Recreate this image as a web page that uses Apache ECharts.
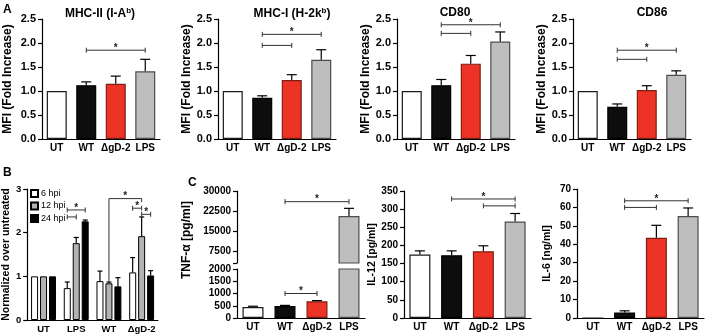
<!DOCTYPE html>
<html>
<head>
<meta charset="utf-8">
<script src="https://cdn.jsdelivr.net/npm/echarts@6/dist/echarts.min.js"></script>
<style>
html, body { margin: 0; padding: 0; background: #fff; }
#chart { width: 708px; height: 336px; }
</style>
</head>
<body>
<div id="chart"></div>
<script>
// categories
const cats = ['UT', 'WT', 'ΔgD-2', 'LPS'];
const catsB = ['UT', 'LPS', 'WT', 'ΔgD-2'];
const hpiNames = ['6 hpi', '12 hpi', '24 hpi'];

// A: MFI (fold increase), mean and SEM per category
const mhc2Mean = [1.0, 1.12, 1.15, 1.41];
const mhc2Sem = [0, 0.07, 0.16, 0.25];
const mhc1Mean = [1.0, 0.86, 1.23, 1.65];
const mhc1Sem = [0, 0.04, 0.11, 0.21];
const cd80Mean = [1.0, 1.12, 1.57, 2.03];
const cd80Sem = [0, 0.12, 0.17, 0.2];
const cd86Mean = [1.0, 0.67, 1.02, 1.34];
const cd86Sem = [0, 0.06, 0.09, 0.08];

// significance brackets: [fromCat, toCat, y, star]
const sigMhc2 = [[1, 3, 1.85, 1]];
const sigMhc1 = [[1, 2, 1.95, 0], [1, 3, 2.18, 1]];
const sigCd80 = [[1, 2, 2.2, 0], [1, 3, 2.38, 1]];
const sigCd86 = [[1, 2, 1.66, 0], [1, 3, 1.85, 1]];

// B: normalized over untreated, per hpi
const b6Mean = [1.0, 0.73, 0.89, 1.09];
const b6Sem = [0, 0.14, 0.23, 0.34];
const b12Mean = [1.0, 1.76, 0.84, 1.92];
const b12Sem = [0, 0.13, 0.03, 0.44];
const b24Mean = [1.0, 2.26, 0.77, 1.02];
const b24Sem = [0, 0.03, 0.2, 0.11];
// [cat1, slot1, cat2, slot2, y, star]  slot 0/1/2 = 6/12/24 hpi
const sigB = [[1, 0, 1, 2, 2.52, 1], [1, 0, 1, 1, 2.36, 0], [3, 0, 3, 1, 2.56, 1], [3, 1, 3, 2, 2.42, 1]];
// [cat1, slot1, yLow, cat2, slot2, yRight, yTop, star]
const linkB = [[2, 1, 0.88, 3, 1, 2.70, 2.78, 1]];

// C: cytokines
const tnfMean = [450, 490, 680, 20600];
const tnfSem = [30, 25, 30, 2900];
const sigTnf = [[1, 2, 1000, 1], [1, 3, 26000, 1]];
const tnfTicksHigh = [7500, 15000, 22500, 30000];
const tnfTicksLow = [0, 500, 1000, 1500, 2000];
const il12Mean = [175, 173, 184, 266];
const il12Sem = [10, 12, 15, 22];
const sigIl12 = [[2, 3, 309, 0], [1, 3, 328, 1]];
const il6Mean = [0, 3, 43.5, 55.3];
const il6Sem = [0, 0.9, 6.8, 4.4];
const sigIl6 = [[1, 2, 60, 0], [1, 3, 63.6, 1]];

const FONT = '"Liberation Sans", Arial, sans-serif';
const fills = ['#ffffff', '#0d0d0d', '#ec3326', '#bebebe'];
const edges = ['#1a1a1a', '#000000', '#7d1f16', '#4d4d4d'];
const hpiFills = ['#ffffff', '#b3b3b3', '#000000'];

const grid = [], xAxis = [], yAxis = [], series = [];

function yAx(gi, o) {
  return {
    type: 'value', gridIndex: gi, min: o.min, max: o.max, interval: o.interval,
    splitLine: { show: false },
    axisLine: { show: true, lineStyle: { color: '#000', width: 1.2 } },
    axisTick: { show: true, length: 4, customValues: o.ticks, lineStyle: { color: '#000', width: 1.2 } },
    axisLabel: {
      color: '#000', fontWeight: 'bold', fontSize: o.fs || 10, fontFamily: FONT, margin: 6,
      customValues: o.labels, formatter: o.fmt || (v => String(v))
    },
    name: o.name || '', nameLocation: 'middle', nameGap: o.nameGap,
    nameTextStyle: { color: '#000', fontWeight: 'bold', fontSize: o.nfs || 10, fontFamily: FONT }
  };
}

function xAx(gi, data, show, fs) {
  return {
    type: 'category', gridIndex: gi, data: data, show: show,
    axisLine: { show: true, onZero: false, lineStyle: { color: '#000', width: 1.2 } },
    axisTick: { show: false },
    axisLabel: { color: '#000', fontWeight: 'bold', fontSize: fs || 10, fontFamily: FONT, margin: 4, interval: 0 }
  };
}

function errItem(cap, slotW) {
  return function (params, api) {
    const off = (api.value(3) || 0) * slotW;
    const a = api.coord([api.value(0), api.value(1)]);
    const b = api.coord([api.value(0), api.value(2)]);
    const x = a[0] + off;
    const st = { stroke: '#000', lineWidth: 1.2 };
    return { type: 'group', children: [
      { type: 'line', shape: { x1: x, y1: a[1], x2: x, y2: b[1] }, style: st },
      { type: 'line', shape: { x1: x - cap, y1: b[1], x2: x + cap, y2: b[1] }, style: st }
    ] };
  };
}

function starText(x, y) {
  return { type: 'text', x: x, y: y - 7, style: {
    text: '*', fill: '#222', font: 'bold 10px ' + FONT,
    align: 'center', verticalAlign: 'top', textAlign: 'center', textVerticalAlign: 'top'
  } };
}

function sigItem(slotW) {
  return function (params, api) {
    const y = api.value(4);
    const a = api.coord([api.value(0), y]);
    const b = api.coord([api.value(2), y]);
    const x1 = a[0] + api.value(1) * slotW, x2 = b[0] + api.value(3) * slotW, py = a[1];
    const st = { stroke: '#333', lineWidth: 1 };
    const ch = [
      { type: 'line', shape: { x1: x1, y1: py, x2: x2, y2: py }, style: st },
      { type: 'line', shape: { x1: x1, y1: py - 2.5, x2: x1, y2: py + 2.5 }, style: st },
      { type: 'line', shape: { x1: x2, y1: py - 2.5, x2: x2, y2: py + 2.5 }, style: st }
    ];
    if (api.value(5)) ch.push(starText((x1 + x2) / 2, py));
    return { type: 'group', children: ch };
  };
}

function linkItem(slotW) {
  return function (params, api) {
    const pLow = api.coord([api.value(0), api.value(2)]);
    const pTopL = api.coord([api.value(0), api.value(6)]);
    const pTopR = api.coord([api.value(3), api.value(6)]);
    const pR = api.coord([api.value(3), api.value(5)]);
    const xl = pLow[0] + (api.value(1) - 1) * slotW, xr = pR[0] + (api.value(4) - 1) * slotW;
    const ch = [{ type: 'polyline', shape: { points: [[xl, pLow[1]], [xl, pTopL[1]], [xr, pTopR[1]], [xr, pR[1]]] },
      style: { stroke: '#333', lineWidth: 1, fill: null } }];
    if (api.value(7)) ch.push(starText((xl + xr) / 2, pTopL[1]));
    return { type: 'group', children: ch };
  };
}

function barData(mean) {
  return mean.map((v, i) => ({ value: v, itemStyle: { color: fills[i], borderColor: edges[i], borderWidth: 1.2 } }));
}

function simplePanel(g, cfg) {
  const gi = grid.length;
  grid.push(g);
  xAxis.push(xAx(gi, cats, cfg.showX !== false, cfg.xfs));
  yAxis.push(yAx(gi, cfg));
  // only keep error bars and brackets that fall inside this axis range
  const inRange = v => v >= cfg.min && v <= cfg.max;
  const err = cfg.mean.map((v, i) => [i, v, v + cfg.sem[i], 0])
    .filter((d, i) => cfg.sem[i] > 0 && inRange(d[2]));
  const sig = cfg.sig.filter(s => inRange(s[2])).map(s => [s[0], 0, s[1], 0, s[2], s[3]]);
  series.push({ type: 'bar', xAxisIndex: gi, yAxisIndex: gi, barWidth: cfg.barW, data: barData(cfg.mean), silent: true });
  series.push({ type: 'custom', xAxisIndex: gi, yAxisIndex: gi, renderItem: errItem(5, 0),
    encode: { x: 0, y: 1 }, data: err, z: 3, silent: true });
  series.push({ type: 'custom', xAxisIndex: gi, yAxisIndex: gi, renderItem: sigItem(0),
    encode: { x: 0, y: 4 }, data: sig, z: 4, silent: true });
}

const fmt1 = v => v.toFixed(1);
const aLeft = [42, 218, 397, 573];
const aMeans = [mhc2Mean, mhc1Mean, cd80Mean, cd86Mean];
const aSems = [mhc2Sem, mhc1Sem, cd80Sem, cd86Sem];
const aSigs = [sigMhc2, sigMhc1, sigCd80, sigCd86];
const aGaps = [28, 25, 25, 24];
aLeft.forEach((l, k) => {
  simplePanel({ left: l, top: 19, width: 118, height: 120 }, {
    min: 0, max: 2.5, interval: 0.5, fmt: fmt1, mean: aMeans[k], sem: aSems[k], sig: aSigs[k],
    barW: 20, name: 'MFI (Fold Increase)', nameGap: aGaps[k], fs: 11, nfs: 12
  });
});

// B: grouped bars
(function () {
  const gi = grid.length;
  grid.push({ left: 27, top: 189, width: 131, height: 131 });
  xAxis.push(xAx(gi, catsB, true, 9.5));
  yAxis.push(yAx(gi, { min: 0, max: 3, interval: 1, fs: 9.5, name: 'Normalized over untreated', nameGap: 15, nfs: 10.5 }));
  const means = [b6Mean, b12Mean, b24Mean], sems = [b6Sem, b12Sem, b24Sem];
  means.forEach((m, s) => {
    series.push({ type: 'bar', name: hpiNames[s], xAxisIndex: gi, yAxisIndex: gi, barWidth: 7, barGap: '28%',
      itemStyle: { color: hpiFills[s], borderColor: '#000', borderWidth: 1 }, data: m, silent: true });
  });
  const err = [];
  means.forEach((m, s) => m.forEach((v, i) => { if (sems[s][i] > 0) err.push([i, v, v + sems[s][i], s - 1]); }));
  series.push({ type: 'custom', xAxisIndex: gi, yAxisIndex: gi, renderItem: errItem(2.5, 9),
    encode: { x: 0, y: 1 }, data: err, z: 3, silent: true });
  series.push({ type: 'custom', xAxisIndex: gi, yAxisIndex: gi, renderItem: sigItem(9),
    encode: { x: 0, y: 4 }, data: sigB.map(s => [s[0], s[1] - 1, s[2], s[3] - 1, s[4], s[5]]), z: 4, silent: true });
  series.push({ type: 'custom', xAxisIndex: gi, yAxisIndex: gi, renderItem: linkItem(9),
    encode: { x: 0, y: 2 }, data: linkB, z: 4, silent: true });
})();

// C: TNF-α with broken axis (two grids)
simplePanel({ left: 237, top: 191, width: 128, height: 72 }, {
  min: 3000, max: 30000, ticks: [3000].concat(tnfTicksHigh), labels: tnfTicksHigh,
  mean: tnfMean, sem: tnfSem, sig: sigTnf, barW: 21, showX: false
});
simplePanel({ left: 237, top: 269, width: 128, height: 49 }, {
  min: 0, max: 2000, ticks: tnfTicksLow, labels: tnfTicksLow,
  mean: tnfMean, sem: tnfSem, sig: sigTnf, barW: 21
});
simplePanel({ left: 404, top: 191, width: 127, height: 127 }, {
  min: 0, max: 350, interval: 50, mean: il12Mean, sem: il12Sem, sig: sigIl12, barW: 21,
  name: 'IL-12 [pg/ml]', nameGap: 19, nfs: 10.5
});
simplePanel({ left: 577, top: 189, width: 127, height: 129 }, {
  min: 0, max: 70, interval: 10, mean: il6Mean, sem: il6Sem, sig: sigIl6, barW: 21,
  name: 'IL-6 [ng/ml]', nameGap: 24, nfs: 10.5
});

const titleRich = {
  n: { fontSize: 12, fontWeight: 'bold', fontFamily: FONT, color: '#000' },
  s: { fontSize: 8, fontWeight: 'bold', fontFamily: FONT, color: '#000', verticalAlign: 'top', padding: [0, 0, 5, 0] }
};
const titles = ['{n|MHC-II (I-A}{s|b}{n|)}', '{n|MHC-I (H-2k}{s|b}{n|)}', '{n|CD80}', '{n|CD86}'];
const titleX = [95, 287, 450, 647];

const chart = echarts.init(document.getElementById('chart'));
chart.setOption({
  animation: false,
  backgroundColor: '#fff',
  textStyle: { fontFamily: FONT },
  title: titles.map((t, k) => ({ text: t, left: titleX[k], top: 2, textAlign: 'center', textStyle: { rich: titleRich } })),
  legend: {
    data: hpiNames, left: 30, top: 189, padding: 0, orient: 'vertical', itemWidth: 7, itemHeight: 7, itemGap: 3.5,
    icon: 'rect', textStyle: { fontSize: 9, fontFamily: FONT, color: '#000', padding: [0, 0, 0, -2] }, selectedMode: false
  },
  graphic: [
    { type: 'text', left: 3, top: 4, style: { text: 'A', font: 'bold 12px ' + FONT, fill: '#000' } },
    { type: 'text', left: 3, top: 167, style: { text: 'B', font: 'bold 12px ' + FONT, fill: '#000' } },
    { type: 'text', left: 188, top: 177, style: { text: 'C', font: 'bold 12px ' + FONT, fill: '#000' } },
    { type: 'text', x: 187, y: 240, rotation: Math.PI / 2,
      style: { text: 'TNF-α [pg/ml]', font: 'bold 12px ' + FONT, fill: '#000', align: 'center', verticalAlign: 'middle' } }
  ],
  grid: grid,
  xAxis: xAxis,
  yAxis: yAxis,
  series: series
});
</script>
</body>
</html>
